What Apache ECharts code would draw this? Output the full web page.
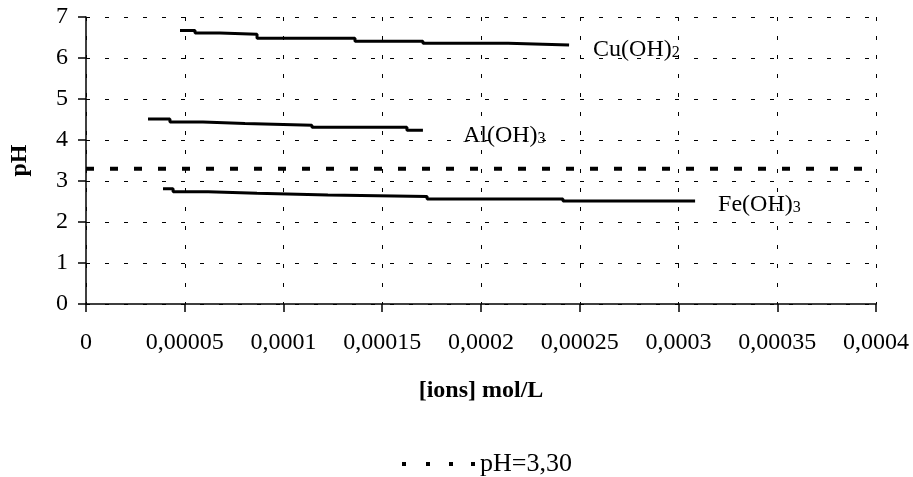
<!DOCTYPE html>
<html><head><meta charset="utf-8">
<script src="https://cdn.jsdelivr.net/npm/echarts@6/dist/echarts.min.js"></script>
<style>html,body{margin:0;padding:0;background:#fff}#c{width:913px;height:477px}</style>
</head><body><div id="c"></div>
<script>
// ---- data ----
const xTickLabels = ['0','0,00005','0,0001','0,00015','0,0002','0,00025','0,0003','0,00035','0,0004'];
const xStep = 0.00005;
const cuX  = [0.0000476, 0.0000552, 0.0000678, 0.0000866, 0.0001362, 0.0001706, 0.0002137, 0.0002446];
const cuPH = [6.67, 6.61, 6.58, 6.48, 6.41, 6.36, 6.32, 6.32];
const alX  = [0.0000314, 0.0000425, 0.0000592, 0.0000805, 0.0001144, 0.0001625, 0.0001706];
const alPH = [4.51, 4.44, 4.40, 4.36, 4.31, 4.24, 4.24];
const feX  = [0.0000390, 0.0000441, 0.0000618, 0.0000866, 0.0001225, 0.0001727, 0.0002415, 0.0003084];
const fePH = [2.81, 2.74, 2.70, 2.66, 2.62, 2.56, 2.51, 2.51];
const refX  = [0, 0.0004];
const refPH = [3.3, 3.3];
const refName = 'pH=3,30';
const labels = {cu: ['Cu(OH)', '2'], al: ['Al(OH)', '3'], fe: ['Fe(OH)', '3']};

const FONT = "'Liberation Serif', 'Times New Roman', serif";
const zip = (xs, ys) => xs.map((x, i) => [x, ys[i]]);
const rich = {
  m: {fontFamily: FONT, fontSize: 24, color: '#000'},
  s: {fontFamily: FONT, fontSize: 16, color: '#000', padding: [6, 0, 0, 0]}
};
function curve(name, xs, ys, lab, off) {
  return {
    name, type: 'line', step: 'end', data: zip(xs, ys), showSymbol: false, symbol: 'none',
    lineStyle: {color: '#000', width: 3}, itemStyle: {color: '#000'},
    silent: true, animation: false,
    endLabel: {show: true, distance: 0, offset: off, align: 'left',
      formatter: '{m|' + lab[0] + '}{s|' + lab[1] + '}', rich}
  };
}
const chart = echarts.init(document.getElementById('c'));
chart.setOption({
  animation: false,
  backgroundColor: '#fff',
  grid: {left: 86, right: 37, top: 17, bottom: 173, containLabel: false, outerBoundsMode: 'none'},
  legend: {
    data: [{name: refName, icon: 'path://M0,0h4v4h-4zM24,0h4v4h-4zM47,0h4v4h-4zM69,0h4v4h-4z'}],
    left: 397, top: 446, itemWidth: 73, itemHeight: 4, itemGap: 0,
    itemStyle: {color: '#000'},
    textStyle: {fontFamily: FONT, fontSize: 26, color: '#000'}
  },
  xAxis: {
    type: 'value', min: 0, max: 0.0004, interval: xStep,
    name: '[ions] mol/L', nameLocation: 'middle', nameGap: 75,
    nameTextStyle: {fontFamily: FONT, fontSize: 24, fontWeight: 'bold', color: '#000'},
    axisLine: {lineStyle: {color: '#000', width: 1.5}},
    axisTick: {show: true, inside: false, length: 8, lineStyle: {color: '#000', width: 1.5}},
    axisLabel: {fontFamily: FONT, fontSize: 24, color: '#000', margin: 27,
      formatter: v => xTickLabels[Math.round(v / xStep)]},
    splitLine: {show: true, lineStyle: {color: '#000', width: 1, type: [4, 15]}}
  },
  yAxis: {
    type: 'value', min: 0, max: 7, interval: 1,
    name: 'pH', nameLocation: 'middle', nameGap: 54, nameRotate: 90,
    nameTextStyle: {fontFamily: FONT, fontSize: 24, fontWeight: 'bold', color: '#000'},
    axisLine: {show: true, lineStyle: {color: '#000', width: 1.5}},
    axisTick: {show: true, inside: false, length: 8, lineStyle: {color: '#000', width: 1.5}},
    axisLabel: {fontFamily: FONT, fontSize: 24, color: '#000', margin: 18},
    splitLine: {show: true, lineStyle: {color: '#000', width: 1, type: [4, 15]}}
  },
  series: [
    curve('Cu(OH)2', cuX, cuPH, labels.cu, [24, 5]),
    curve('Al(OH)3', alX, alPH, labels.al, [40, 6]),
    curve('Fe(OH)3', feX, fePH, labels.fe, [23, 4]),
    {
      name: refName, type: 'line', data: zip(refX, refPH), showSymbol: false, symbol: 'none',
      lineStyle: {color: '#000', width: 4, type: [8, 16]}, itemStyle: {color: '#000'}, silent: true
    }
  ]
});
</script></body></html>
